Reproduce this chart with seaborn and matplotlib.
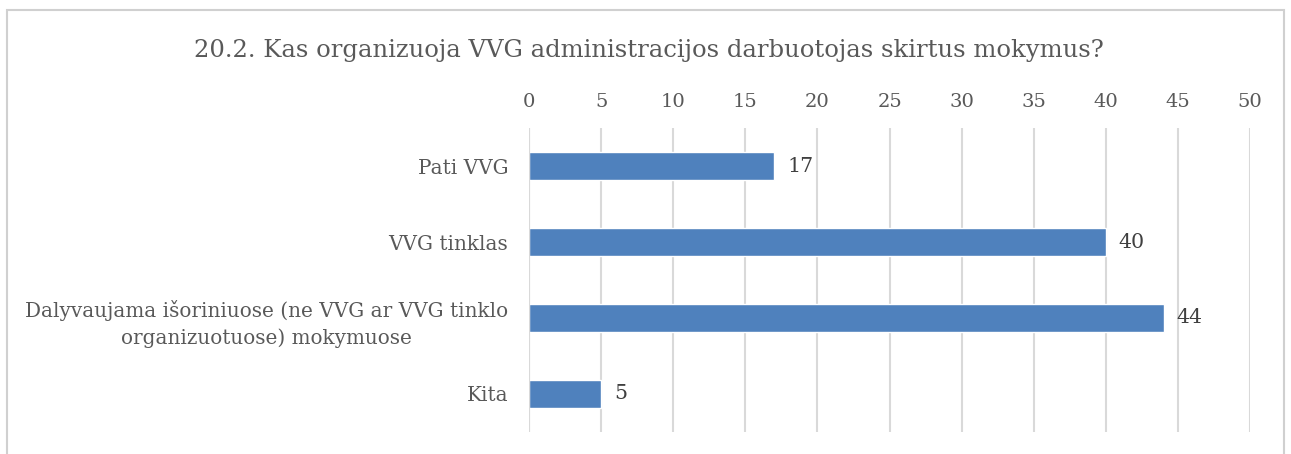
import matplotlib
matplotlib.use('Agg')
import matplotlib.pyplot as plt
import seaborn as sns
import pandas as pd
from matplotlib.patches import Rectangle

categories = [
    "Pati VVG",
    "VVG tinklas",
    "Dalyvaujama išoriniuose (ne VVG ar VVG tinklo\norganizuotuose) mokymuose",
    "Kita",
]
values = [17, 40, 44, 5]
ticks = [0, 5, 10, 15, 20, 25, 30, 35, 40, 45, 50]
title = "20.2. Kas organizuoja VVG administracijos darbuotojas skirtus mokymus?"

df = pd.DataFrame({"category": categories, "value": values})

sns.set_theme(style="white")
plt.rcParams['font.family'] = ['DejaVu Serif', 'Liberation Serif']
text_color = "#595959"

fig = plt.figure(figsize=(12.91, 4.54), dpi=100)
ax = fig.add_axes([0.4098, 0.0485, 0.5585, 0.6695])

sns.barplot(data=df, x="value", y="category", color="#4F81BD", width=0.36,
            saturation=1, ax=ax, zorder=3)

ax.set_xlim(0, 50)
ax.set_xticks(ticks)
ax.xaxis.tick_top()
ax.tick_params(axis="x", length=0, pad=12, labelsize=14, labelcolor=text_color)
ax.tick_params(axis="y", length=0, pad=15, labelsize=14.4, labelcolor=text_color)
for lbl in ax.get_yticklabels():
    lbl.set_multialignment("center")
    lbl.set_linespacing(1.5)
ax.grid(axis="x", color="#D9D9D9", linewidth=1.5, zorder=0)
ax.set_xlabel("")
ax.set_ylabel("")
for s in ax.spines.values():
    s.set_visible(False)
ax.axvline(0, color="#D9D9D9", linewidth=1.5, zorder=4)

for i, v in enumerate(values):
    ax.text(v + 0.9, i, str(v), va="center", ha="left", fontsize=14.8,
            color="#404040")

fig.text(0.503, 0.888, title, ha="center", va="center", fontsize=17.5,
         color=text_color)

# chart frame
fig.patches.append(Rectangle((0.0054, -0.05), 0.989, 1.028, transform=fig.transFigure,
                             fill=False, edgecolor="#D0D0D0", linewidth=1.5))

fig.savefig("out.png", dpi=100)
plt.close(fig)
